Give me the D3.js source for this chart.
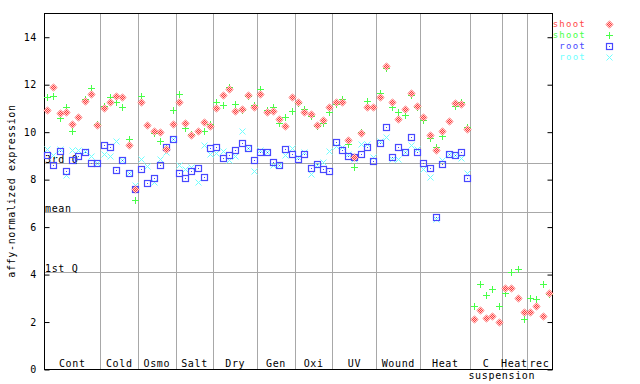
<!DOCTYPE html>
<html><head><meta charset="utf-8">
<script src="https://cdn.jsdelivr.net/npm/d3@7"></script>
<style>body{margin:0;background:#fff}svg text{font-family:"DejaVu Sans Mono",monospace;font-size:10px;letter-spacing:0.65px}</style>
</head><body><svg id="c" width="640" height="384"></svg>
<script>
const categories = ["Cont","Cold","Osmo","Salt","Dry","Gen","Oxi","UV","Wound","Heat","C","Heat","rec"];
const counts = [9,6,6,6,7,6,6,7,7,8,5,4,4];
const yTicks = [0,2,4,6,8,10,12,14];
const stats = [{name:"3rd Q", v:8.68},{name:"mean", v:6.63},{name:"1st Q", v:4.09}];
const shootRed = [10.92,11.9,10.78,10.83,10.31,10.63,11.3,11.58,10.27,
 10.98,11.23,11.5,11.45,9.43,7.57,
 11.27,10.27,10.01,9.99,9.29,10.31,
 11.23,10.36,9.85,10.03,10.39,10.25,
 10.98,11.54,11.79,10.85,10.97,11.54,11.03,
 11.57,10.81,10.85,10.53,10.22,11.45,
 11.23,10.84,10.74,10.3,10.48,11.06,
 11.27,11.27,9.64,8.92,9.93,11.06,11.02,
 11.44,12.75,11.25,10.53,10.97,11.63,11.08,
 10.63,9.87,9.22,10.02,10.45,11.21,11.17,10.13,
 2.1,2.48,2.14,2.22,1.99,
 3.41,3.4,2.98,2.39,
 2.39,2.64,2.22,3.19];
const shootGreen = [11.45,11.5,10.56,11.02,10.03,10.62,11.37,11.86,10.31,
 11.1,11.45,11.23,11.03,9.68,7.12,
 11.5,10.27,9.93,9.6,9.33,10.9,
 11.58,10.14,9.9,10.03,10.03,10.32,
 11.27,11.12,11.87,11.16,10.9,11.5,11.12,
 11.79,10.92,11.03,10.35,10.6,10.85,
 11.19,10.94,10.66,10.24,10.38,10.81,
 11.16,11.36,9.5,8.5,9.99,11.31,11.02,
 11.63,12.68,11.04,10.82,10.7,11.54,11.06,
 10.49,9.73,9.36,9.81,10.43,11.08,11.25,10.2,
 2.64,3.57,3.1,3.36,2.64,
 3.19,4.07,4.2,2.1,
 2.98,2.94,3.57,3.15];
const rootBlue = [9.02,8.59,9.2,8.35,8.81,8.97,9.16,8.67,8.7,
 9.43,9.34,8.39,8.8,8.24,7.57,
 8.42,7.83,8.06,8.59,9.34,9.71,
 8.25,8.06,8.34,8.48,8.08,9.3,
 9.34,8.88,9.02,9.23,9.51,9.33,8.8,
 9.15,9.13,8.73,8.59,9.26,9.05,
 8.85,9.05,8.46,8.62,8.42,8.34,
 9.57,9.22,8.97,8.92,9.05,9.34,8.76,
 9.51,10.19,8.93,9.36,9.14,9.77,9.14,
 8.68,8.47,6.4,8.63,9.07,9.03,9.14,8.05];
const rootCyan = [9.27,9.03,9.25,8.18,9.23,9.23,9.2,8.97,8.66,
 9.05,8.97,9.6,8.8,8.24,7.75,
 8.83,8.56,7.87,8.84,9.13,9.71,
 8.59,8.43,8.52,7.87,9.43,9.08,
 9.09,9.19,8.8,8.98,10.03,9.33,8.34,
 9.22,9.13,8.59,8.59,9.03,9.3,
 8.92,9.13,8.21,8.6,8.71,9.19,
 9.4,9.34,9.08,8.83,9.47,9.47,8.94,
 9.61,9.77,8.84,8.84,9.14,9.45,9.27,
 8.42,8.09,6.33,8.8,9.07,9.03,8.89,8.26];

const series = [
 {label:"shoot", color:"#ff4848", shape:"diamond", values:shootRed},
 {label:"shoot", color:"#48ff48", shape:"plus", values:shootGreen},
 {label:"root", color:"#4848ff", shape:"square", values:rootBlue},
 {label:"root", color:"#70ffff", shape:"cross", values:rootCyan}
];

const L=44,R=552,T=13,B=369;
const total = d3.sum(counts);
const svg = d3.select("#c");
const x = d3.scaleLinear().domain([0,total]).range([L,R]);
const y = d3.scaleLinear().domain([0,15]).range([B,T]);

const defs = svg.append("defs");
const pat = defs.append("pattern").attr("id","chk").attr("patternUnits","userSpaceOnUse").attr("width",2).attr("height",2);
pat.append("rect").attr("x",0).attr("y",0).attr("width",1).attr("height",1).attr("fill","#ff3c3c");
pat.append("rect").attr("x",1).attr("y",1).attr("width",1).attr("height",1).attr("fill","#ff3c3c");
pat.append("rect").attr("x",1).attr("y",0).attr("width",1).attr("height",1).attr("fill","#ffd0d0");
pat.append("rect").attr("x",0).attr("y",1).attr("width",1).attr("height",1).attr("fill","#ffd0d0");

const grid = "#a8a8a8";
const bounds = d3.cumsum(counts);
const starts = [0, ...bounds.slice(0,-1)];
svg.append("g").selectAll("line").data(bounds.slice(0,-1)).join("line")
 .attr("x1",d=>Math.round(x(d))+0.5).attr("x2",d=>Math.round(x(d))+0.5)
 .attr("y1",T).attr("y2",B).attr("stroke",grid).attr("stroke-width",1);
svg.append("g").selectAll("line").data(stats).join("line")
 .attr("x1",L).attr("x2",R).attr("y1",d=>Math.round(y(d.v))+0.5).attr("y2",d=>Math.round(y(d.v))+0.5)
 .attr("stroke",grid).attr("stroke-width",1);
svg.append("g").selectAll("text").data(stats).join("text")
 .attr("x",L+1).attr("y",d=>Math.round(y(d.v))).text(d=>d.name).attr("fill","#000");

svg.append("rect").attr("x",L+0.5).attr("y",T+0.5).attr("width",R-L).attr("height",B-T)
 .attr("fill","none").attr("stroke","#000").attr("stroke-width",1);

const yl = svg.append("g").attr("transform",`translate(${L+0.5},0.5)`)
 .call(d3.axisRight(y).tickValues(yTicks).tickSize(5).tickFormat(""));
yl.select(".domain").remove();
yl.selectAll("line").attr("stroke","#000");
const yr = svg.append("g").attr("transform",`translate(${R+0.5},0.5)`)
 .call(d3.axisLeft(y).tickValues(yTicks).tickSize(5).tickFormat(""));
yr.select(".domain").remove();
yr.selectAll("line").attr("stroke","#000");
svg.append("g").selectAll("text").data(yTicks).join("text")
 .attr("x",37).attr("y",d=>y(d)+4).attr("text-anchor","end").text(d=>d);

svg.append("text").attr("transform","translate(15,191) rotate(-90)").attr("text-anchor","middle")
 .text("affy-normalized expression");

svg.append("g").selectAll("text").data(categories).join("text")
 .attr("x",(d,i)=>(x(starts[i])+x(bounds[i]))/2).attr("y",367).attr("text-anchor","middle").text(d=>d);
svg.append("text").attr("x",x(bounds[10])).attr("y",379).attr("text-anchor","middle").text("suspension");

function drawMarker(g, shape, color){
 if(shape==="diamond"){
  g.append("path").attr("d","M0.5,-3.5L4.5,0.5L0.5,4.5L-3.5,0.5Z").attr("fill","url(#chk)");
 } else if(shape==="plus"){
  g.append("path").attr("d","M-3,0.5H4M0.5,-3V4").attr("stroke",color).attr("stroke-width",1).attr("fill","none");
 } else if(shape==="square"){
  g.append("rect").attr("x",-2.5).attr("y",-2.5).attr("width",6).attr("height",6).attr("fill","none").attr("stroke",color).attr("stroke-width",1.2);
  g.append("rect").attr("x",0).attr("y",0).attr("width",1).attr("height",1).attr("fill",color);
 } else {
  g.append("path").attr("d","M-2.5,-2.5L3.5,3.5M3.5,-2.5L-2.5,3.5").attr("stroke",color).attr("stroke-width",1).attr("fill","none");
 }
}

const order = [3,2,1,0];
order.forEach(si=>{
 const s = series[si];
 s.values.forEach((v,i)=>{
  const g = svg.append("g").attr("transform",`translate(${Math.round(x(i+0.5))},${Math.round(y(v))})`);
  drawMarker(g, s.shape, s.color);
 });
});

series.forEach((s,k)=>{
 const yy = 24 + k*11;
 svg.append("text").attr("x",586).attr("y",yy+3).attr("text-anchor","end").attr("fill",s.color)
  .style("font-size","9px").style("letter-spacing","1.25px").text(s.label);
 const g = svg.append("g").attr("transform",`translate(609,${yy})`);
 drawMarker(g, s.shape, s.color);
});
</script></body></html>
